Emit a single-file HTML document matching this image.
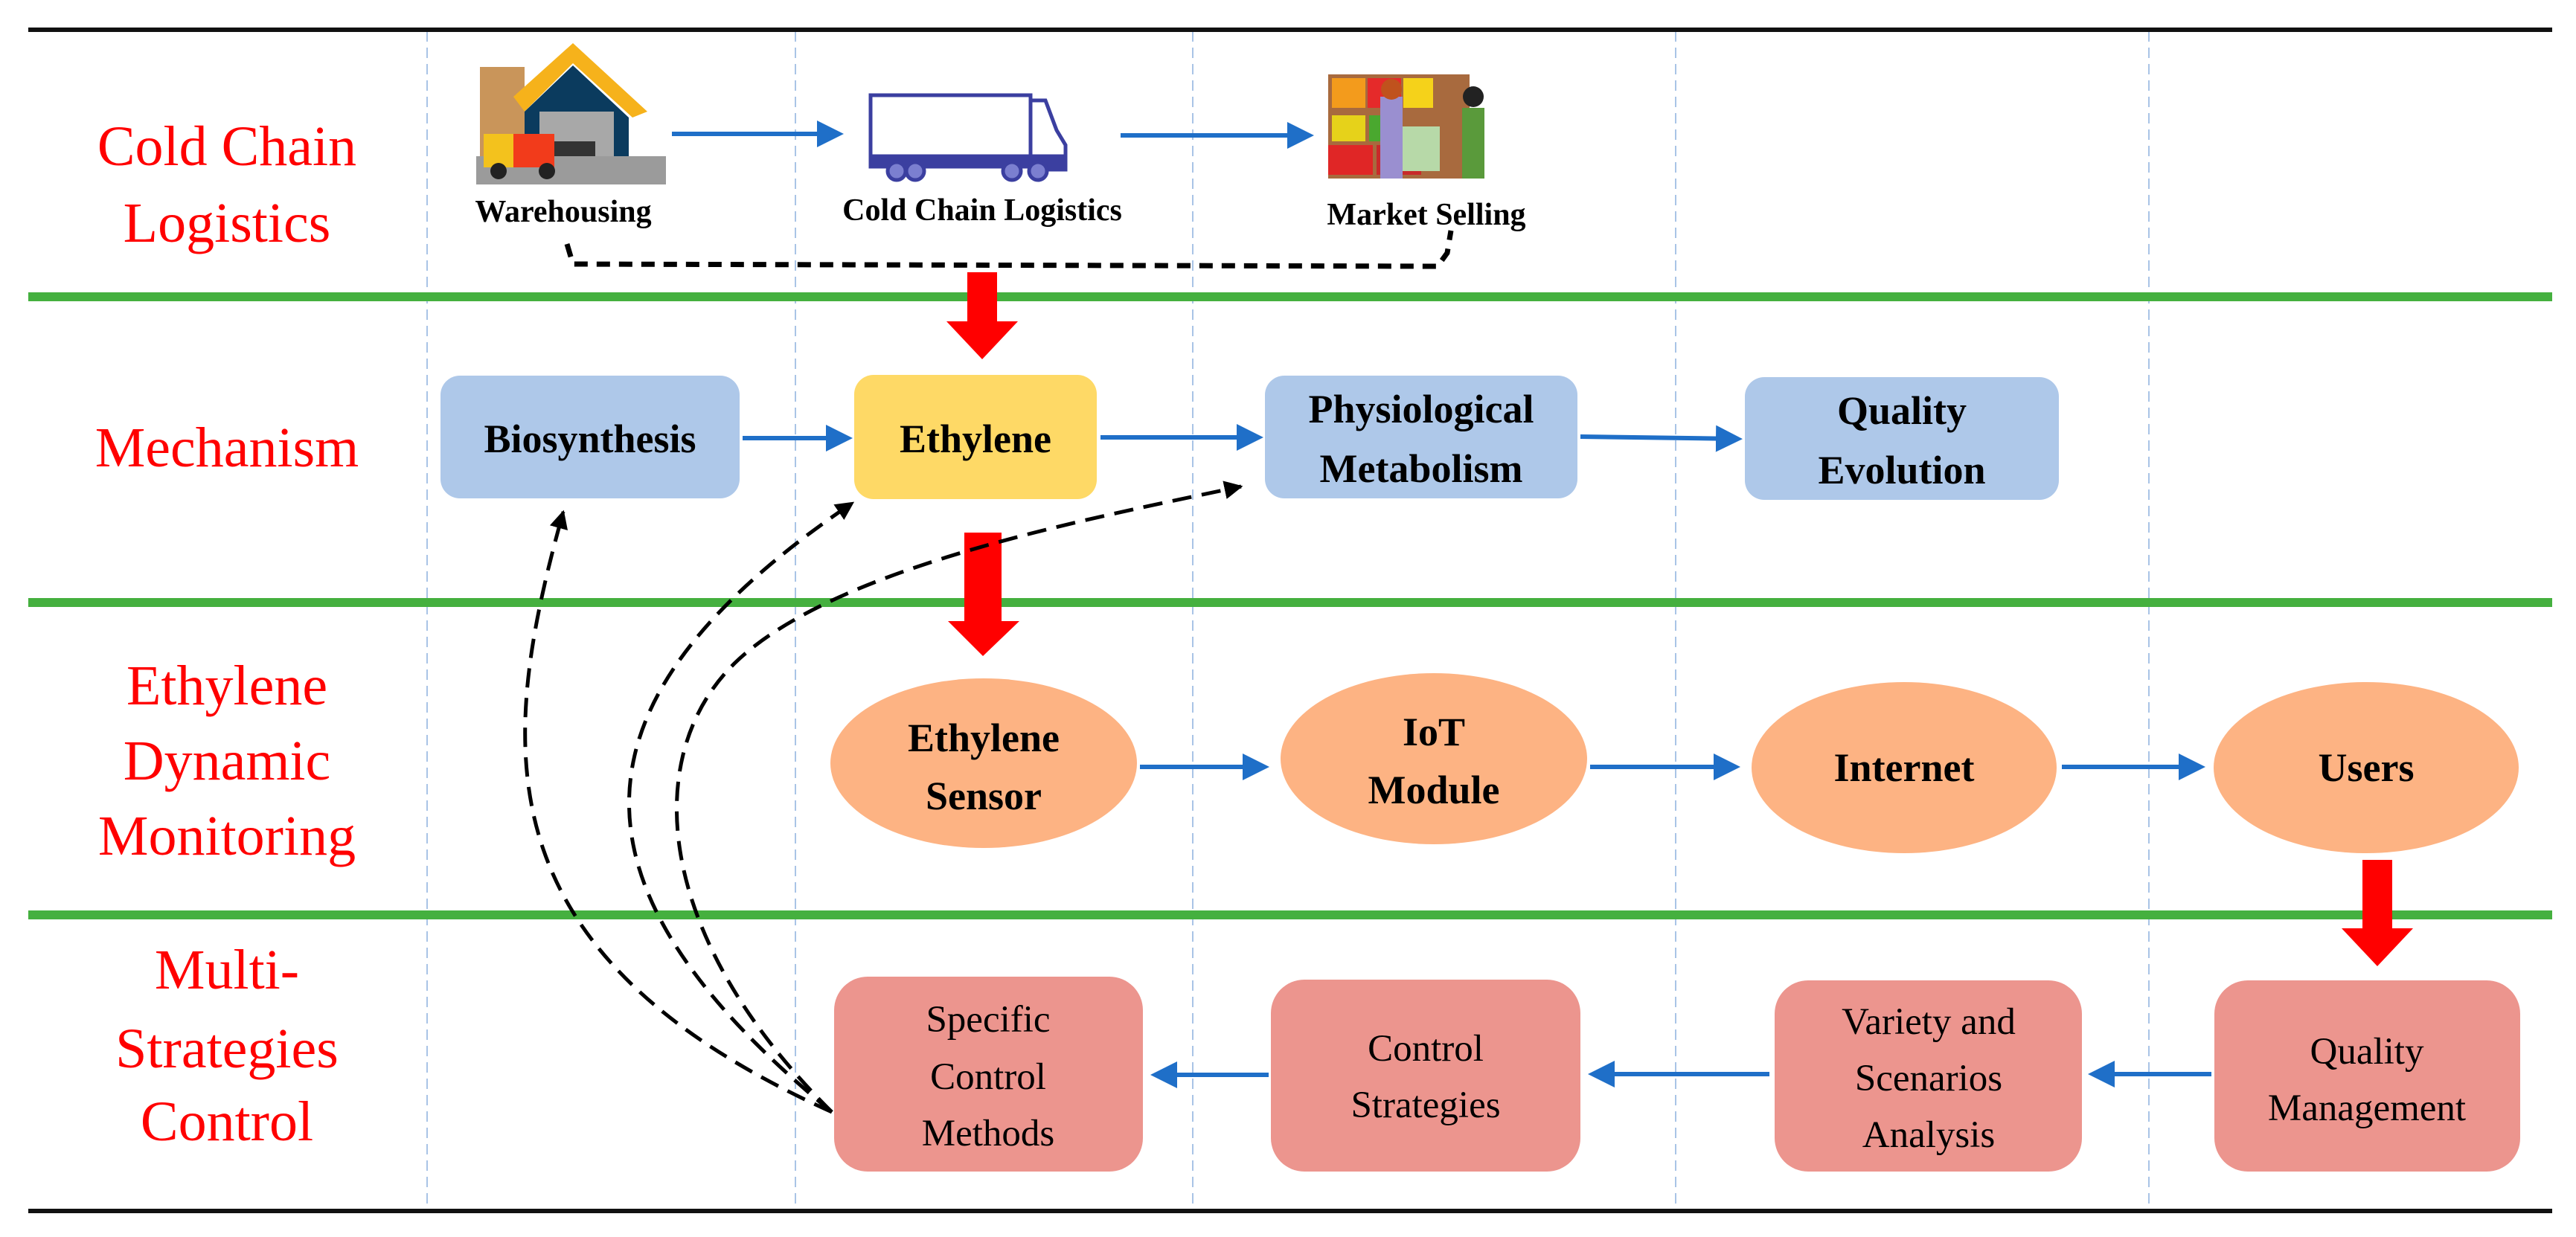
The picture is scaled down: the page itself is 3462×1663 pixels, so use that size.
<!DOCTYPE html>
<html><head><meta charset="utf-8"><style>
html,body{margin:0;padding:0;background:#fff}
svg{display:block}
.lbl{font-family:"Liberation Serif",serif;fill:#f00;font-size:76px;text-anchor:middle}
.b{font-family:"Liberation Serif",serif;font-weight:bold;font-size:54px;text-anchor:middle;fill:#000}
.n{font-family:"Liberation Serif",serif;font-size:51px;text-anchor:middle;fill:#000}
.s{font-family:"Liberation Serif",serif;font-weight:bold;font-size:42px;text-anchor:middle;fill:#000}
</style></head><body>
<svg width="3462" height="1663" viewBox="0 0 3462 1663" xmlns="http://www.w3.org/2000/svg">
<defs>
<marker id="ba" markerWidth="6" markerHeight="6" refX="5" refY="3" orient="auto" markerUnits="strokeWidth"><path d="M0,0 L6,3 L0,6 z" fill="#1f6fc8"/></marker>
<marker id="ka" markerWidth="5" markerHeight="5" refX="4.5" refY="2.5" orient="auto" markerUnits="strokeWidth"><path d="M0,0 L5,2.5 L0,5 z" fill="#000"/></marker>
</defs>
<g stroke="#a9c4e6" stroke-width="2" stroke-dasharray="14,8">
<line x1="574" y1="42" x2="574" y2="1626"/><line x1="1069" y1="42" x2="1069" y2="1626"/>
<line x1="1603" y1="42" x2="1603" y2="1626"/><line x1="2252" y1="42" x2="2252" y2="1626"/>
<line x1="2888" y1="42" x2="2888" y2="1626"/>
</g>
<line x1="38" y1="40" x2="3430" y2="40" stroke="#111" stroke-width="6"/>
<line x1="38" y1="1628" x2="3430" y2="1628" stroke="#111" stroke-width="6"/>
<g stroke="#45b03f" stroke-width="12">
<line x1="38" y1="399" x2="3430" y2="399"/><line x1="38" y1="810" x2="3430" y2="810"/><line x1="38" y1="1230" x2="3430" y2="1230"/>
</g>
<text class="lbl" x="305" y="222">Cold Chain</text><text class="lbl" x="305" y="325">Logistics</text>
<text class="lbl" x="305" y="627">Mechanism</text>
<text class="lbl" x="305" y="947">Ethylene</text><text class="lbl" x="305" y="1048">Dynamic</text><text class="lbl" x="305" y="1149">Monitoring</text>
<text class="lbl" x="305" y="1329">Multi-</text><text class="lbl" x="305" y="1435">Strategies</text><text class="lbl" x="305" y="1533">Control</text>
<g>
<rect x="645" y="90" width="60" height="150" fill="#c9955a"/>
<polygon points="690,130 770,58 870,150 850,158 770,85 705,150" fill="#f6b21b"/>
<polygon points="705,150 770,88 845,158 845,215 705,215" fill="#0b3b5e"/>
<rect x="725" y="150" width="100" height="65" fill="#a8a8a8"/>
<rect x="740" y="190" width="60" height="35" fill="#333"/>
<rect x="640" y="210" width="255" height="38" fill="#9b9b9b"/>
<rect x="650" y="180" width="40" height="45" fill="#f3c21d"/>
<rect x="690" y="180" width="55" height="45" fill="#f23b1b"/>
<circle cx="670" cy="230" r="11" fill="#222"/><circle cx="735" cy="230" r="11" fill="#222"/>
</g>
<g fill="#fff" stroke="#3b3fa0" stroke-width="5">
<rect x="1170" y="128" width="215" height="82"/>
<path d="M1385,135 L1405,135 L1420,175 L1432,195 L1432,228 L1385,228 z"/>
<rect x="1170" y="210" width="262" height="14" fill="#3b3fa0"/>
<circle cx="1205" cy="230" r="12" fill="#7b7fd0"/><circle cx="1230" cy="230" r="12" fill="#7b7fd0"/>
<circle cx="1360" cy="230" r="12" fill="#7b7fd0"/><circle cx="1395" cy="230" r="12" fill="#7b7fd0"/>
</g>
<g>
<rect x="1785" y="100" width="190" height="140" fill="#a86a3e"/>
<rect x="1790" y="105" width="45" height="40" fill="#f39b1c"/><rect x="1838" y="105" width="45" height="40" fill="#e52a2a"/><rect x="1886" y="105" width="40" height="40" fill="#f5d21a"/>
<rect x="1790" y="155" width="45" height="35" fill="#e6d21a"/><rect x="1840" y="155" width="45" height="35" fill="#4aa82f"/>
<rect x="1785" y="195" width="60" height="40" fill="#e02626"/><rect x="1850" y="195" width="60" height="40" fill="#c82a2a"/>
<rect x="1855" y="130" width="30" height="110" fill="#9a8fd0"/><circle cx="1870" cy="120" r="14" fill="#c0521d"/>
<rect x="1965" y="145" width="30" height="95" fill="#5a9a3b"/><circle cx="1980" cy="130" r="14" fill="#222"/>
<rect x="1885" y="170" width="50" height="60" fill="#b7d9a8"/>
</g>
<text class="s" x="757" y="298">Warehousing</text>
<text class="s" x="1320" y="296">Cold Chain Logistics</text>
<text class="s" x="1917" y="302">Market Selling</text>
<g stroke="#1f6fc8" stroke-width="6" fill="none" marker-end="url(#ba)">
<line x1="903" y1="180" x2="1128" y2="180"/><line x1="1506" y1="182" x2="1760" y2="182"/>
</g>
<path d="M762,328 L770,355 L1932,358 L1945,340 L1950,310" fill="none" stroke="#000" stroke-width="7" stroke-dasharray="18,12"/>
<g fill="#f00">
<polygon points="1300,366 1340,366 1340,432 1368,432 1320,483 1272,432 1300,432"/>
<polygon points="1296,716 1346,716 1346,835 1370,835 1321,882 1274,835 1296,835"/>
<polygon points="3175,1156 3215,1156 3215,1248 3243,1248 3195,1299 3147,1248 3175,1248"/>
</g>
<rect x="592" y="505" width="402" height="165" rx="26" fill="#aec8e9"/>
<rect x="1148" y="504" width="326" height="167" rx="26" fill="#fed966"/>
<rect x="1700" y="505" width="420" height="165" rx="26" fill="#aec8e9"/>
<rect x="2345" y="507" width="422" height="165" rx="26" fill="#aec8e9"/>
<text class="b" x="793" y="608">Biosynthesis</text>
<text class="b" x="1311" y="608">Ethylene</text>
<text class="b" x="1910" y="568">Physiological</text><text class="b" x="1910" y="648">Metabolism</text>
<text class="b" x="2556" y="570">Quality</text><text class="b" x="2556" y="650">Evolution</text>
<g stroke="#1f6fc8" stroke-width="6" fill="none" marker-end="url(#ba)">
<line x1="998" y1="589" x2="1140" y2="589"/><line x1="1479" y1="588" x2="1692" y2="588"/><line x1="2124" y1="587" x2="2336" y2="590"/>
</g>
<g fill="#fdb383">
<ellipse cx="1322" cy="1026" rx="206" ry="114"/><ellipse cx="1927" cy="1020" rx="206" ry="115"/>
<ellipse cx="2559" cy="1032" rx="205" ry="115"/><ellipse cx="3180" cy="1032" rx="205" ry="115"/>
</g>
<text class="b" x="1322" y="1010">Ethylene</text><text class="b" x="1322" y="1088">Sensor</text>
<text class="b" x="1927" y="1002">IoT</text><text class="b" x="1927" y="1080">Module</text>
<text class="b" x="2559" y="1050">Internet</text>
<text class="b" x="3180" y="1050">Users</text>
<g stroke="#1f6fc8" stroke-width="6" fill="none" marker-end="url(#ba)">
<line x1="1532" y1="1031" x2="1700" y2="1031"/><line x1="2137" y1="1031" x2="2333" y2="1031"/><line x1="2771" y1="1031" x2="2958" y2="1031"/>
</g>
<g fill="#ec958e">
<rect x="1121" y="1313" width="415" height="262" rx="45"/><rect x="1708" y="1317" width="416" height="258" rx="45"/>
<rect x="2385" y="1318" width="413" height="257" rx="45"/><rect x="2976" y="1318" width="411" height="257" rx="45"/>
</g>
<text class="n" x="1328" y="1387">Specific</text><text class="n" x="1328" y="1464">Control</text><text class="n" x="1328" y="1540">Methods</text>
<text class="n" x="1916" y="1426">Control</text><text class="n" x="1916" y="1502">Strategies</text>
<text class="n" x="2592" y="1390">Variety and</text><text class="n" x="2592" y="1466">Scenarios</text><text class="n" x="2592" y="1542">Analysis</text>
<text class="n" x="3181" y="1430">Quality</text><text class="n" x="3181" y="1506">Management</text>
<g stroke="#1f6fc8" stroke-width="6" fill="none" marker-end="url(#ba)">
<line x1="1705" y1="1445" x2="1552" y2="1445"/><line x1="2378" y1="1444" x2="2140" y2="1444"/><line x1="2972" y1="1444" x2="2812" y2="1444"/>
</g>
<g stroke="#000" stroke-width="5" fill="none" stroke-dasharray="26,14" marker-end="url(#ka)">
<path d="M1118,1495 C640,1280 670,1000 757,688"/>
<path d="M1118,1495 C760,1200 740,950 1146,676"/>
<path d="M1118,1495 C870,1250 860,1000 1000,880 S 1450,700 1668,654"/>
</g>
</svg>
</body></html>
